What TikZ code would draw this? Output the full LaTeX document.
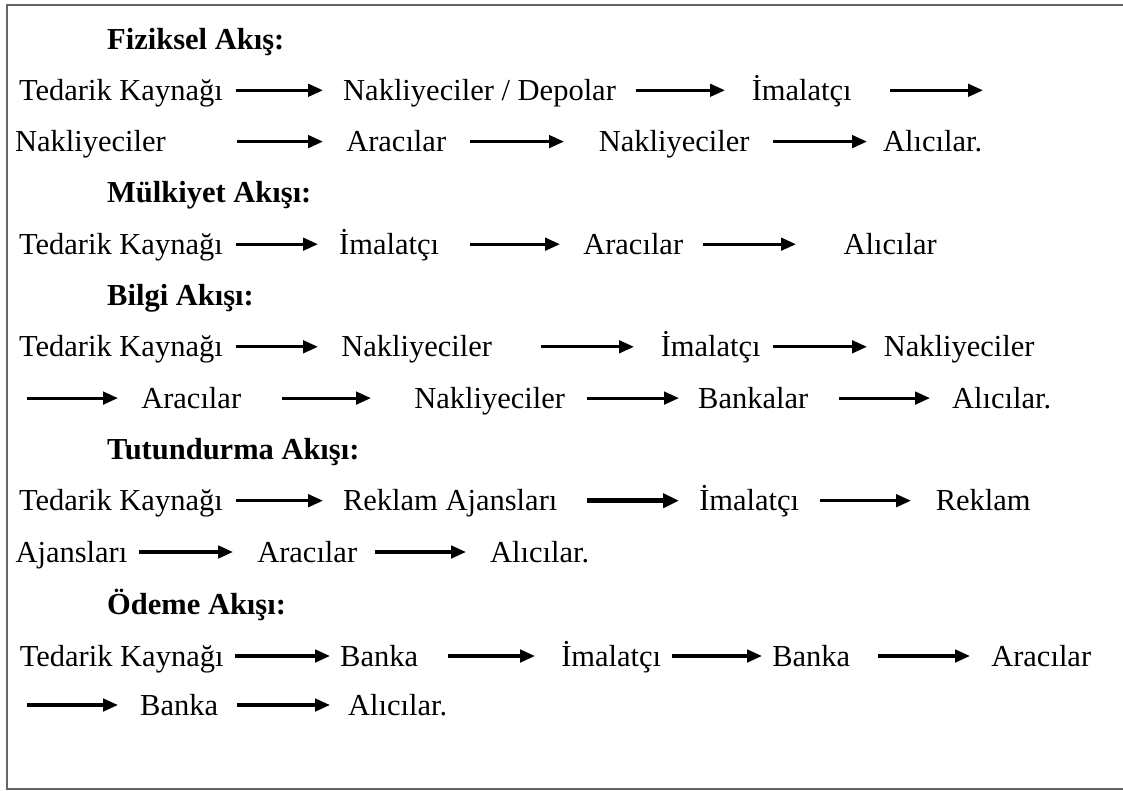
\documentclass[tikz,border=0pt]{standalone}
\usepackage{fontspec}
\setmainfont{Liberation Serif}
\usetikzlibrary{arrows.meta}

\tikzset{
  txt/.style={font=\fontsize{30.5pt}{36pt}\selectfont, inner sep=0pt,
              text height=20.2pt, text depth=0pt, anchor=west},
  hdr/.style={txt, font=\fontsize{30.5pt}{36pt}\selectfont\bfseries},
  wd/.style={minimum width=#1},
  arr/.style={line width=3.2pt, -{Triangle[length=15pt,width=12.5pt]}},
  arrbold/.style={line width=4.6pt, -{Triangle[length=16pt,width=14pt]}},
  gl/.style={shorten <=#1},
  gr/.style={shorten >=#1},
  frame/.style={draw=black!60, line width=2.2pt}
}

\begin{document}
\begin{tikzpicture}[x=1pt, y=-1pt]
\useasboundingbox (0,0) rectangle (1123,791);

% outer frame (open to the right)
\draw[frame] (1140,5) -- (7,5) -- (7,789) -- (1140,789);

% ---------------- Fiziksel Akış ----------------
\node[hdr] (h1) at (107,39) {Fiziksel Akış:};

\node[txt, wd=216.5] (f1) at (12.5,90.3) {Tedarik Kaynağı};
\node[txt, wd=271]   (f2) at (343,90.3) {Nakliyeciler / Depolar};
\node[txt, wd=103]   (f3) at (750,90.3) {İmalatçı};
\coordinate (f3e) at (983,90.3);
\draw[arr, gl=7pt,  gr=20pt] (f1) -- (f2);
\draw[arr, gl=20pt, gr=25pt] (f2) -- (f3);
\draw[arr, gl=37pt] (f3) -- (f3e);

\node[txt, wd=155.5] (f4) at (12.5,141.6) {Nakliyeciler};
\node[txt, wd=100]   (f5) at (346,141.6) {Aracılar};
\node[txt, wd=152]   (f6) at (598,141.6) {Nakliyeciler};
\node[txt, wd=103]   (f7) at (881,141.6) {Alıcılar.};
\draw[arr, gl=69pt, gr=23pt] (f4) -- (f5);
\draw[arr, gl=24pt, gr=34pt] (f5) -- (f6);
\draw[arr, gl=23pt, gr=14pt] (f6) -- (f7);

% ---------------- Mülkiyet Akışı ----------------
\node[hdr] (h2) at (107,192.9) {Mülkiyet Akışı:};

\node[txt, wd=216.5] (m1) at (12.5,244.2) {Tedarik Kaynağı};
\node[txt, wd=104]   (m2) at (337,244.2) {İmalatçı};
\node[txt, wd=100]   (m3) at (583,244.2) {Aracılar};
\node[txt, wd=94]    (m4) at (843,244.2) {Alıcılar};
\draw[arr, gl=7pt,  gr=19pt] (m1) -- (m2);
\draw[arr, gl=29pt, gr=23pt] (m2) -- (m3);
\draw[arr, gl=20pt, gr=47pt] (m3) -- (m4);

% ---------------- Bilgi Akışı ----------------
\node[hdr] (h3) at (107,295.5) {Bilgi Akışı:};

\node[txt, wd=216.5] (b1) at (12.5,346.8) {Tedarik Kaynağı};
\node[txt, wd=153]   (b2) at (340,346.8) {Nakliyeciler};
\node[txt, wd=101]   (b3) at (660,346.8) {İmalatçı};
\node[txt, wd=154]   (b4) at (882,346.8) {Nakliyeciler};
\draw[arr, gl=7pt,  gr=22pt] (b1) -- (b2);
\draw[arr, gl=48pt, gr=26pt] (b2) -- (b3);
\draw[arr, gl=12pt, gr=15pt] (b3) -- (b4);

\coordinate (b5s) at (27,398.1);
\node[txt, wd=100]   (b5) at (141,398.1) {Aracılar};
\node[txt, wd=151]   (b6) at (414,398.1) {Nakliyeciler};
\node[txt, wd=110]   (b7) at (698,398.1) {Bankalar};
\node[txt, wd=101]   (b8) at (951,398.1) {Alıcılar.};
\draw[arr, gr=23pt] (b5s) -- (b5);
\draw[arr, gl=41pt, gr=43pt] (b5) -- (b6);
\draw[arr, gl=22pt, gr=19pt] (b6) -- (b7);
\draw[arr, gl=30pt, gr=21pt] (b7) -- (b8);

% ---------------- Tutundurma Akışı ----------------
\node[hdr] (h4) at (107,449.4) {Tutundurma Akışı:};

\node[txt, wd=216.5] (t1) at (12.5,500.7) {Tedarik Kaynağı};
\node[txt, wd=220]   (t2) at (340,500.7) {Reklam Ajansları};
\node[txt, wd=102]   (t3) at (698,500.7) {İmalatçı};
\node[txt, wd=96]    (t4) at (935,500.7) {Reklam};
\draw[arr,     gl=7pt,  gr=17pt] (t1) -- (t2);
\draw[arrbold, gl=27pt, gr=19pt] (t2) -- (t3);
\draw[arr,     gl=20pt, gr=24pt] (t3) -- (t4);

\node[txt, wd=117.5] (t5) at (12.5,552) {Ajansları};
\node[txt, wd=100]   (t6) at (257,552) {Aracılar};
\node[txt, wd=105]   (t7) at (487,552) {Alıcılar.};
\draw[arr, gl=9pt,  gr=24pt] (t5) -- (t6);
\draw[arr, gl=18pt, gr=21pt] (t6) -- (t7);

% ---------------- Ödeme Akışı ----------------
\node[hdr] (h5) at (107,604) {Ödeme Akışı:};

\node[txt, wd=207]   (o1) at (18,656) {Tedarik Kaynağı};
\node[txt, wd=77]    (o2) at (340,656) {Banka};
\node[txt, wd=102]   (o3) at (560,656) {İmalatçı};
\node[txt, wd=78]    (o4) at (772,656) {Banka};
\node[txt, wd=102]   (o5) at (990,656) {Aracılar};
\draw[arr, gl=10pt, gr=10pt] (o1) -- (o2);
\draw[arr, gl=30pt, gr=25pt] (o2) -- (o3);
\draw[arr, gl=10pt, gr=10pt] (o3) -- (o4);
\draw[arr, gl=28pt, gr=20pt] (o4) -- (o5);

\coordinate (o6s) at (27,705);
\node[txt, wd=78]    (o6) at (140,705) {Banka};
\node[txt, wd=101]   (o7) at (347,705) {Alıcılar.};
\draw[arr, gr=22pt] (o6s) -- (o6);
\draw[arr, gl=19pt, gr=17pt] (o6) -- (o7);
\end{tikzpicture}
\end{document}
